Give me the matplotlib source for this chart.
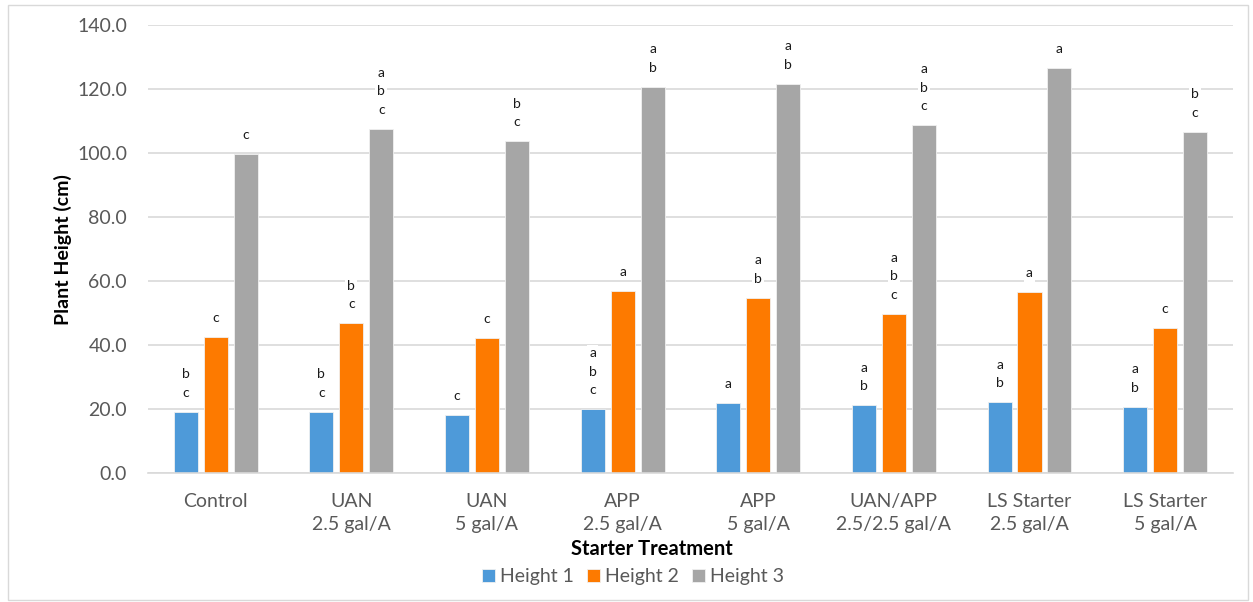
import matplotlib.pyplot as plt
import numpy as np
from matplotlib.patches import Rectangle

categories = ["Control", "UAN\n2.5 gal/A", "UAN\n5 gal/A", "APP\n2.5 gal/A", "APP\n5 gal/A",
              "UAN/APP\n2.5/2.5 gal/A", "LS Starter\n2.5 gal/A", "LS Starter\n5 gal/A"]
series_names = ["Height 1", "Height 2", "Height 3"]
height1 = [19.2, 19.2, 18.3, 20.0, 21.8, 21.3, 22.1, 20.8]
height2 = [42.6, 46.8, 42.1, 57.0, 54.9, 49.8, 56.5, 45.5]
height3 = [99.7, 107.6, 103.8, 120.8, 121.7, 108.8, 126.7, 106.7]
letters1 = ["bc", "bc", "c", "abc", "a", "ab", "ab", "ab"]
letters2 = ["c", "bc", "c", "a", "ab", "abc", "a", "c"]
letters3 = ["c", "abc", "bc", "ab", "ab", "abc", "a", "bc"]

colors = ["#4e9ad9", "#fd7a00", "#a6a6a6"]
plt.rcParams['font.family'] = ["Lato", "DejaVu Sans"]

fig = plt.figure(figsize=(12.53, 6.02), dpi=100)
ax = fig.add_axes([0.118, 0.214, 0.866, 0.744])

x = np.arange(len(categories))
step = 0.221
width = 0.177
values = [height1, height2, height3]
letters = [letters1, letters2, letters3]

# pixels -> data units (approx 3.2 px per cm)
px = 140 / 448.0
for i, (vals, labs) in enumerate(zip(values, letters)):
    pos = x + (i - 1) * step
    ax.bar(pos, vals, width, color=colors[i], label=series_names[i], zorder=2,
           edgecolor="#f0f0f0", linewidth=0.6)
    for xp, v, lab in zip(pos, vals, labs):
        n = len(lab)
        for k, ch in enumerate(lab):
            yk = v + (19 + 18.5 * (n - 1 - k)) * px
            ax.text(xp, yk, ch, ha="center", va="center", fontsize=10,
                    color="#1a1a1a", zorder=3,
                    bbox=dict(boxstyle="square,pad=0.15", fc="white", ec="none"))

ax.set_xlim(-0.5, 7.5)
ax.set_ylim(0, 140)
ax.set_yticks(np.arange(0, 141, 20))
ax.set_yticklabels([f"{v:.1f}" for v in np.arange(0, 141, 20)])
ax.yaxis.grid(True, color="#d9d9d9", linewidth=1.2, zorder=0)
ax.set_axisbelow(True)
for s in ["top", "right", "left"]:
    ax.spines[s].set_visible(False)
ax.spines["bottom"].set_color("#d9d9d9")
ax.spines["bottom"].set_linewidth(1.2)
ax.tick_params(axis="both", length=0, labelsize=14, labelcolor="#595959")
ax.tick_params(axis="y", pad=15)
ax.tick_params(axis="x", pad=14)
ax.set_xticks(x)
ax.set_xticklabels(categories, linespacing=1.45)

fig.text(0.050, 0.586, "Plant Height (cm)", rotation=90, ha="center", va="center",
         fontsize=14, fontweight="bold", color="black")
fig.text(0.520, 0.088, "Starter Treatment", ha="center", va="center",
         fontsize=14.5, fontweight="bold", color="black")

leg = fig.legend(loc="center", bbox_to_anchor=(0.505, 0.042), ncol=3, frameon=False,
                 fontsize=14, handlelength=0.65, handleheight=0.65, handletextpad=0.25,
                 columnspacing=0.7)
for t in leg.get_texts():
    t.set_color("#595959")

fig.patches.append(Rectangle((0.006, 0.004), 0.99, 0.988, transform=fig.transFigure,
                             fill=False, edgecolor="#d9d9d9", linewidth=1))

fig.savefig("out.png", dpi=100)
